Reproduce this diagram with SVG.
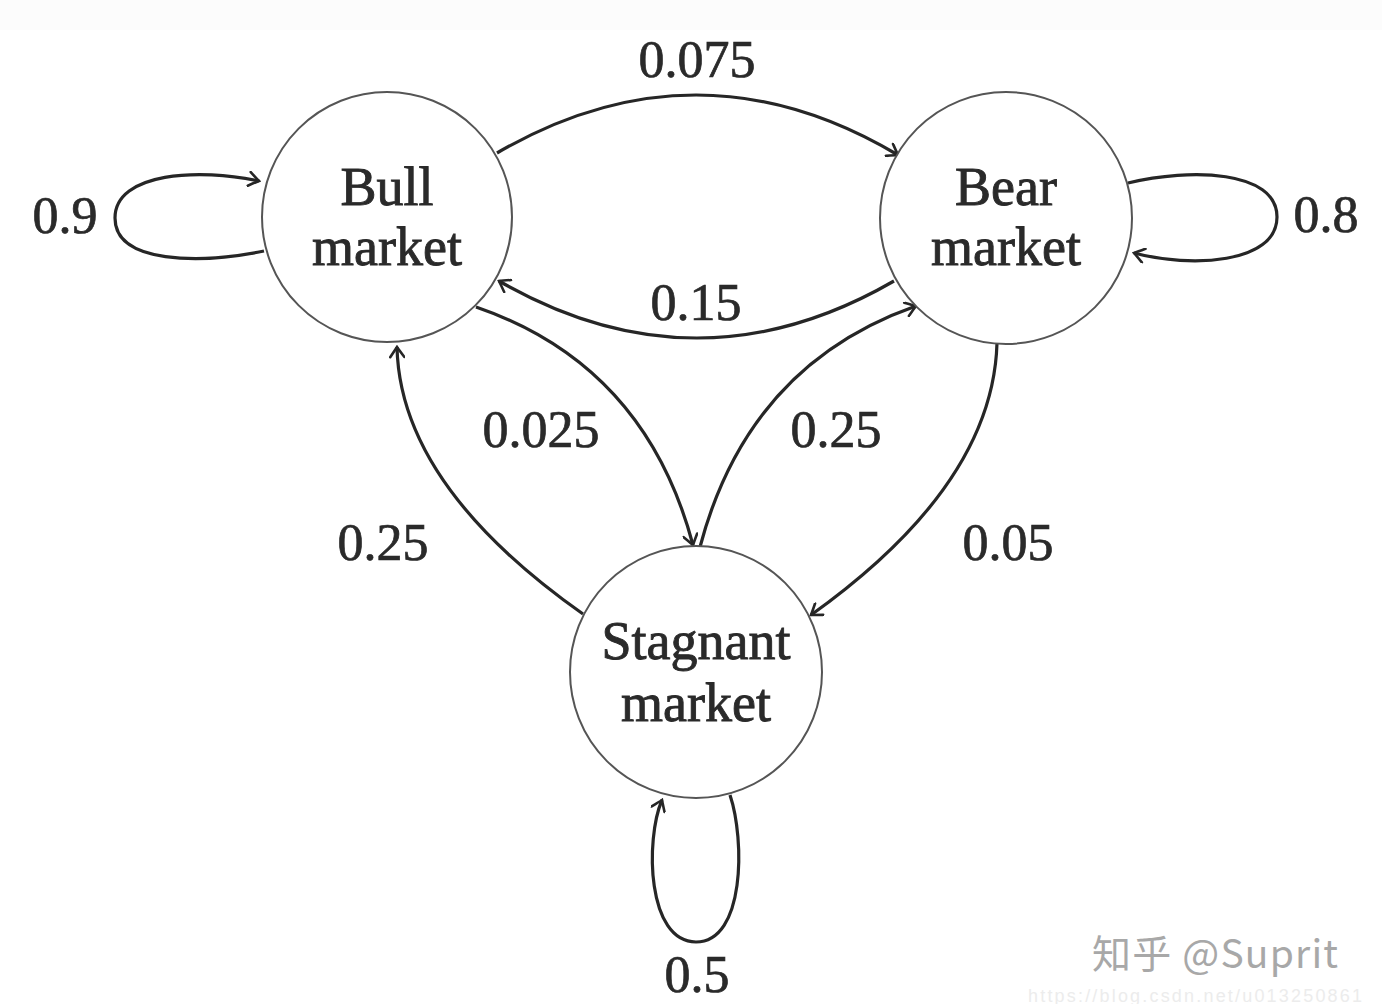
<svg xmlns="http://www.w3.org/2000/svg" width="1382" height="1004" viewBox="0 0 1382 1004">
<style>
.node{fill:#fff;stroke:#555;stroke-width:2}
.nl{font-family:"Liberation Serif","DejaVu Serif",serif;font-size:54px;fill:#2a2a2a;stroke:#2a2a2a;stroke-width:0.9;text-anchor:middle}
.el{font-family:"Liberation Serif","DejaVu Serif",serif;font-size:52px;fill:#2a2a2a;stroke:#2a2a2a;stroke-width:0.7;text-anchor:middle}
.edge{fill:none;stroke:#262626;stroke-width:3.2;marker-end:url(#arr)}
.wm{font-family:"Noto Sans CJK SC","Noto Sans",sans-serif;font-size:39px;fill:#a8a8a8}
.url{font-family:"Liberation Sans",sans-serif;font-size:18px;fill:#ececec}
</style>
<defs>
<marker id="arr" viewBox="-12 -8 14 16" markerWidth="14" markerHeight="16" refX="0" refY="0" orient="auto" markerUnits="userSpaceOnUse">
<path d="M-10,-7 Q-3,-2 0,0 Q-3,2 -10,7" fill="none" stroke="#262626" stroke-width="2.6" stroke-linecap="round"/>
</marker>
</defs>
<rect width="1382" height="1004" fill="#fff"/>
<rect width="1382" height="30" fill="#fcfcfc"/>
<g id="connectors">
<path class="edge" d="M497,153 Q698,36 898,155"/>
<path class="edge" d="M894,281 Q697,395 499,281"/>
<path class="edge" d="M476,307 Q645,365 693,545"/>
<path class="edge" d="M700,547 Q748,365 916,306"/>
<path class="edge" d="M583,614 Q400,485 397,347"/>
<path class="edge" d="M997,343 Q993,485 811,615"/>
<path class="edge" d="M264,251 C200,264 115,264 115,218 C115,172 200,168 259,181"/>
<path class="edge" d="M1128,183 C1190,168 1277,170 1277,217 C1277,264 1190,268 1134,253"/>
<path class="edge" d="M730,795 C745,840 745,942 696,942 C647,942 645,840 662,800"/>
</g>
<g id="bull">
<circle class="node" cx="387" cy="217" r="125"/>
<text class="nl" x="387" y="205">Bull</text>
<text class="nl" x="387" y="265">market</text>
</g>
<g id="bear">
<circle class="node" cx="1006" cy="218" r="126"/>
<text class="nl" x="1006" y="205">Bear</text>
<text class="nl" x="1006" y="265">market</text>
</g>
<g id="stagnant">
<circle class="node" cx="696" cy="672" r="126"/>
<text class="nl" x="696" y="659">Stagnant</text>
<text class="nl" x="696" y="721">market</text>
</g>
<g id="labels">
<text class="el" x="697" y="77">0.075</text>
<text class="el" x="696" y="320">0.15</text>
<text class="el" x="541" y="447">0.025</text>
<text class="el" x="836" y="447">0.25</text>
<text class="el" x="383" y="560">0.25</text>
<text class="el" x="1008" y="560">0.05</text>
<text class="el" x="65" y="233">0.9</text>
<text class="el" x="1326" y="232">0.8</text>
<text class="el" x="697" y="992">0.5</text>
</g>
<g id="watermark">
<text class="wm" x="1092" y="968" textLength="246" lengthAdjust="spacing">知乎 @Suprit</text>
<text class="url" x="1028" y="1002" textLength="334" lengthAdjust="spacing">https://blog.csdn.net/u013250861</text>
</g>
</svg>
